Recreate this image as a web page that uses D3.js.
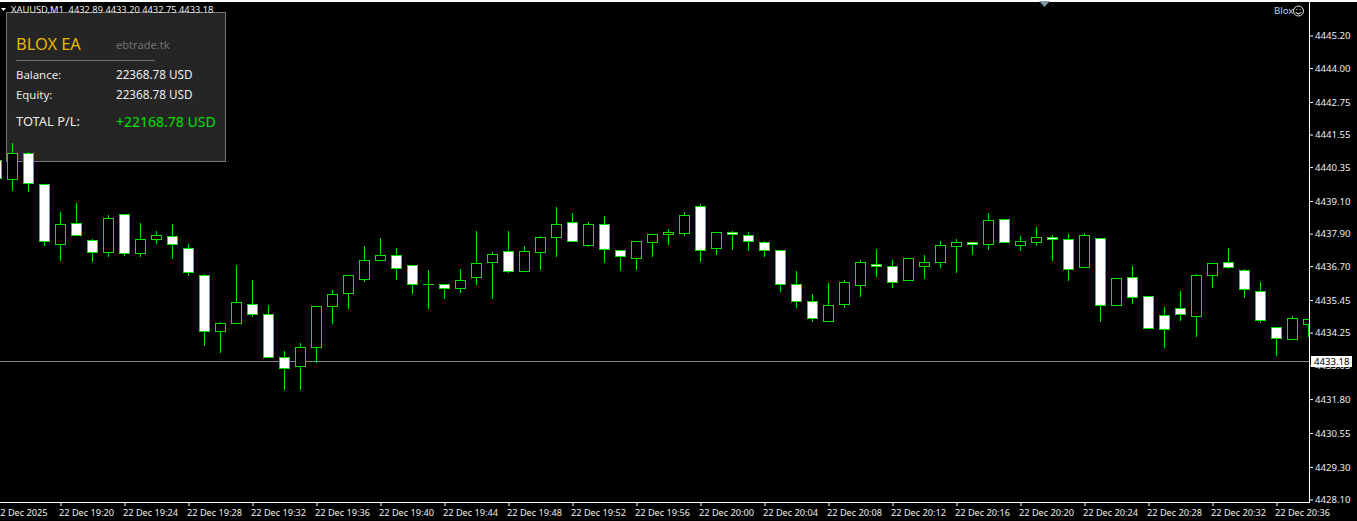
<!DOCTYPE html>
<html><head><meta charset="utf-8">
<script src="https://cdn.jsdelivr.net/npm/d3@7"></script>
<style>
html,body{margin:0;padding:0;background:#000;overflow:hidden}
svg{display:block}
text{font-family:"Noto Sans",sans-serif}
</style></head><body><div id="c"></div>
<script>
// Candle data; the first bar is 19:16, one bar per minute
const open = [4440.60,4439.89,4440.85,4439.71,4437.50,4438.27,4437.65,4437.20,4438.60,4437.17,4437.68,4437.79,4437.35,4436.36,4434.29,4434.59,4435.29,4434.92,4433.33,4433.00,4433.70,4435.21,4435.69,4436.21,4436.91,4437.09,4436.72,4436.02,4436.02,4435.88,4436.28,4436.84,4437.24,4436.50,4437.20,4437.76,4438.31,4437.46,4438.24,4437.28,4436.98,4437.57,4437.87,4437.90,4438.90,4437.35,4437.94,4437.83,4437.57,4437.28,4436.02,4435.40,4434.66,4435.29,4435.99,4436.76,4436.69,4436.17,4436.69,4436.84,4437.43,4437.57,4437.50,4438.42,4437.46,4437.57,4437.76,4437.68,4436.65,4437.72,4435.25,4436.28,4435.58,4434.88,4435.14,4434.85,4436.36,4436.84,4436.54,4435.77,4434.44,4434.00,4434.55];
const high = [4440.60,4441.26,4440.93,4439.71,4438.72,4439.05,4437.72,4438.60,4438.60,4438.31,4438.01,4438.27,4437.54,4436.43,4434.66,4436.76,4436.21,4435.30,4433.59,4433.89,4435.21,4435.84,4436.36,4437.46,4437.76,4437.39,4436.72,4436.58,4436.06,4436.61,4438.01,4437.24,4438.01,4437.46,4437.83,4438.90,4438.68,4438.35,4438.57,4437.31,4437.65,4437.87,4438.09,4438.72,4439.01,4437.94,4438.01,4437.98,4437.65,4437.28,4436.54,4435.69,4436.10,4436.21,4436.95,4437.35,4436.95,4437.02,4437.13,4437.65,4437.72,4437.57,4438.68,4438.42,4437.83,4438.16,4437.87,4437.90,4437.94,4437.72,4436.25,4436.72,4435.58,4435.21,4435.80,4436.43,4436.80,4437.39,4436.61,4436.13,4434.44,4434.88,4434.73];
const low = [4439.93,4439.49,4439.45,4437.46,4436.91,4437.83,4436.87,4437.06,4437.09,4437.06,4437.54,4436.98,4436.36,4433.78,4433.52,4434.59,4434.85,4433.33,4432.15,4432.15,4433.15,4434.59,4435.14,4436.13,4436.91,4436.21,4435.69,4435.14,4435.51,4435.73,4436.02,4435.51,4436.47,4436.50,4436.58,4437.06,4437.61,4437.43,4436.84,4436.54,4436.58,4437.06,4437.50,4437.83,4436.87,4437.13,4437.31,4437.28,4437.06,4435.77,4435.18,4434.66,4434.66,4435.18,4435.58,4436.32,4435.91,4436.17,4436.25,4436.65,4436.47,4437.13,4437.31,4437.57,4437.28,4437.46,4436.91,4436.17,4436.65,4434.66,4435.25,4435.32,4434.40,4433.70,4434.70,4434.11,4435.91,4436.61,4435.55,4434.62,4433.41,4434.00,4434.11];
const close = [4439.93,4440.85,4439.75,4437.61,4438.24,4437.83,4437.20,4438.46,4437.17,4437.68,4437.83,4437.50,4436.47,4434.29,4434.59,4435.36,4434.92,4433.33,4432.93,4433.70,4435.21,4435.66,4436.36,4436.91,4437.09,4436.61,4436.02,4436.02,4435.88,4436.17,4436.80,4437.13,4436.50,4437.24,4437.76,4438.24,4437.61,4438.24,4437.31,4437.06,4437.61,4437.87,4437.94,4438.57,4437.28,4437.94,4437.87,4437.61,4437.28,4436.02,4435.40,4434.77,4435.25,4436.10,4436.84,4436.69,4436.10,4436.98,4436.84,4437.46,4437.57,4437.50,4438.38,4437.57,4437.61,4437.76,4437.68,4436.58,4437.83,4435.25,4436.25,4435.55,4434.40,4434.37,4434.92,4436.36,4436.80,4436.65,4435.84,4434.70,4434.03,4434.77,4434.73];
const priceTicks = [4445.20,4444.00,4442.75,4441.55,4440.35,4439.10,4437.90,4436.70,4435.45,4434.25,4433.05,4431.80,4430.55,4429.30,4428.10];
const timeTicks = ["22 Dec 2025","22 Dec 19:20","22 Dec 19:24","22 Dec 19:28","22 Dec 19:32","22 Dec 19:36","22 Dec 19:40","22 Dec 19:44","22 Dec 19:48","22 Dec 19:52","22 Dec 19:56","22 Dec 20:00","22 Dec 20:04","22 Dec 20:08","22 Dec 20:12","22 Dec 20:16","22 Dec 20:20","22 Dec 20:24","22 Dec 20:28","22 Dec 20:32","22 Dec 20:36"];
const barsPerTick = 4;
const currentPrice = 4433.18;
const headerText = "XAUUSD,M1  4432.89 4433.20 4432.75 4433.18";

const W = 1357, H = 521, axisX = 1309, axisY = 502;
const GREEN = "#00e600";
const svg = d3.select("#c").append("svg").attr("width", W).attr("height", H).style("background", "#000");
const x = d3.scaleLinear().domain([0, open.length - 1]).range([-3.5, -3.5 + 16 * (open.length - 1)]);
const y = d3.scaleLinear().domain([4428.10, 4445.20]).range([499.5, 35.5]);
const snap = v => Math.floor(v) + 0.5;
const py = v => snap(y(v));

svg.append("rect").attr("x", 0).attr("y", 0).attr("width", W).attr("height", 2).attr("fill", "#fff");
svg.append("defs").append("clipPath").attr("id", "plot").append("rect")
   .attr("x", 0).attr("y", 2).attr("width", axisX).attr("height", axisY - 2);

// info panel (sits behind the candles)
const panel = svg.append("g");
panel.append("rect").attr("x", 6.5).attr("y", 12.5).attr("width", 219).attr("height", 149)
     .attr("fill", "#252525").attr("stroke", "#767676");
const ptext = (t, px, pyy, size, fill) => panel.append("text").attr("x", px).attr("y", pyy)
     .attr("font-size", size).attr("fill", fill).text(t);
ptext("BLOX EA", 16, 50, 16.4, "#e6b800");
ptext("ebtrade.tk", 116, 49, 11.1, "#6f6f6f");
panel.append("line").attr("x1", 16).attr("x2", 155).attr("y1", 60.5).attr("y2", 60.5).attr("stroke", "#6e6e6e");
ptext("Balance:", 16, 79, 11.4, "#e8e8e8");
ptext("22368.78 USD", 116, 79, 11.7, "#ececec");
ptext("Equity:", 16, 99, 11.4, "#e8e8e8");
ptext("22368.78 USD", 116, 99, 11.7, "#ececec");
ptext("TOTAL P/L:", 16, 126, 12.9, "#e8e8e8");
ptext("+22168.78 USD", 116, 127, 14, "#00e000");

const plot = svg.append("g").attr("clip-path", "url(#plot)");
// current price line
plot.append("line").attr("x1", 0).attr("x2", axisX).attr("y1", py(currentPrice)).attr("y2", py(currentPrice))
    .attr("stroke", "#7d858c");

const idx = d3.range(open.length);
const bars = plot.selectAll("g.bar").data(idx).join("g").attr("class", "bar");
bars.append("line").attr("x1", i => x(i)).attr("x2", i => x(i))
    .attr("y1", i => py(high[i])).attr("y2", i => py(low[i]) + 0.5)
    .attr("stroke", GREEN).attr("shape-rendering", "crispEdges");
bars.filter(i => open[i] !== close[i]).append("rect")
    .attr("x", i => x(i) - 5).attr("width", 10)
    .attr("y", i => py(Math.max(open[i], close[i])))
    .attr("height", i => py(Math.min(open[i], close[i])) - py(Math.max(open[i], close[i])))
    .attr("fill", i => close[i] > open[i] ? "#000" : "#fff")
    .attr("stroke", GREEN).attr("shape-rendering", "crispEdges");
bars.filter(i => open[i] === close[i]).append("line")
    .attr("x1", i => x(i) - 5.5).attr("x2", i => x(i) + 5.5)
    .attr("y1", i => py(open[i])).attr("y2", i => py(open[i]))
    .attr("stroke", GREEN).attr("shape-rendering", "crispEdges");

// frame lines
svg.append("line").attr("x1", axisX + .5).attr("x2", axisX + .5).attr("y1", 2).attr("y2", axisY + 1).attr("stroke", "#fff");
svg.append("line").attr("x1", 0).attr("x2", axisX + 1).attr("y1", axisY + .5).attr("y2", axisY + .5).attr("stroke", "#fff");

// price axis
const yAxis = svg.append("g").attr("transform", `translate(${axisX + 1},0)`)
  .call(d3.axisRight(y).tickValues(priceTicks).tickFormat(d3.format(".2f")).tickSize(3).tickPadding(2));
yAxis.select(".domain").remove();
yAxis.selectAll(".tick line").attr("stroke", "#fff");
yAxis.selectAll("text").attr("fill", "#ececec").attr("font-size", 9.6).attr("font-family", '"Noto Sans",sans-serif');

// time axis
const tickIdx = timeTicks.map((_, i) => i * barsPerTick);
const xAxis = svg.append("g").attr("transform", `translate(0,${axisY + 1})`)
  .call(d3.axisBottom(x).tickValues(tickIdx).tickFormat((d, i) => timeTicks[i]).tickSize(3).tickPadding(3));
xAxis.select(".domain").remove();
xAxis.selectAll(".tick line").attr("stroke", "#fff");
xAxis.selectAll("text").attr("fill", "#ececec").attr("font-size", 9.2).attr("text-anchor", "start")
     .attr("dx", -2).attr("font-family", '"Noto Sans",sans-serif');

// current price tag
const tagY = py(currentPrice);
svg.append("rect").attr("x", 1311).attr("y", tagY - 5.5).attr("width", 41).attr("height", 11).attr("fill", "#fff");
svg.append("text").attr("x", 1314).attr("y", tagY + 3.5).attr("font-size", 9.6).attr("fill", "#000").text(d3.format(".2f")(currentPrice));

// header
svg.append("path").attr("d", d3.line()([[1,8],[6,8],[3.5,11]]) + "Z").attr("fill", "#fff");
svg.append("text").attr("x", 11).attr("y", 13).attr("font-size", 9.3).attr("fill", "#ececec")
   .attr("xml:space", "preserve").style("white-space", "pre").text(headerText);

// top marker
svg.append("path").attr("d", d3.line()([[1039,1],[1050,1],[1044.5,7]]) + "Z").attr("fill", "#7c9aa6");

// Blox label and smiley
svg.append("text").attr("x", 1274).attr("y", 14).attr("font-size", 9.6).attr("fill", "#bcd6ee").text("Blox");
const sm = svg.append("g").attr("transform", "translate(1298.5,11)").attr("fill", "none").attr("stroke", "#e6e6e6");
sm.append("circle").attr("r", 5);
sm.append("path").attr("d", d3.arc()({innerRadius: 2.8, outerRadius: 2.8, startAngle: Math.PI * 0.65, endAngle: Math.PI * 1.35}));
sm.append("rect").attr("x", -2.2).attr("y", -2).attr("width", 1).attr("height", 1).attr("fill", "#e6e6e6").attr("stroke", "none");
sm.append("rect").attr("x", 1.2).attr("y", -2).attr("width", 1).attr("height", 1).attr("fill", "#e6e6e6").attr("stroke", "none");
</script></body></html>
